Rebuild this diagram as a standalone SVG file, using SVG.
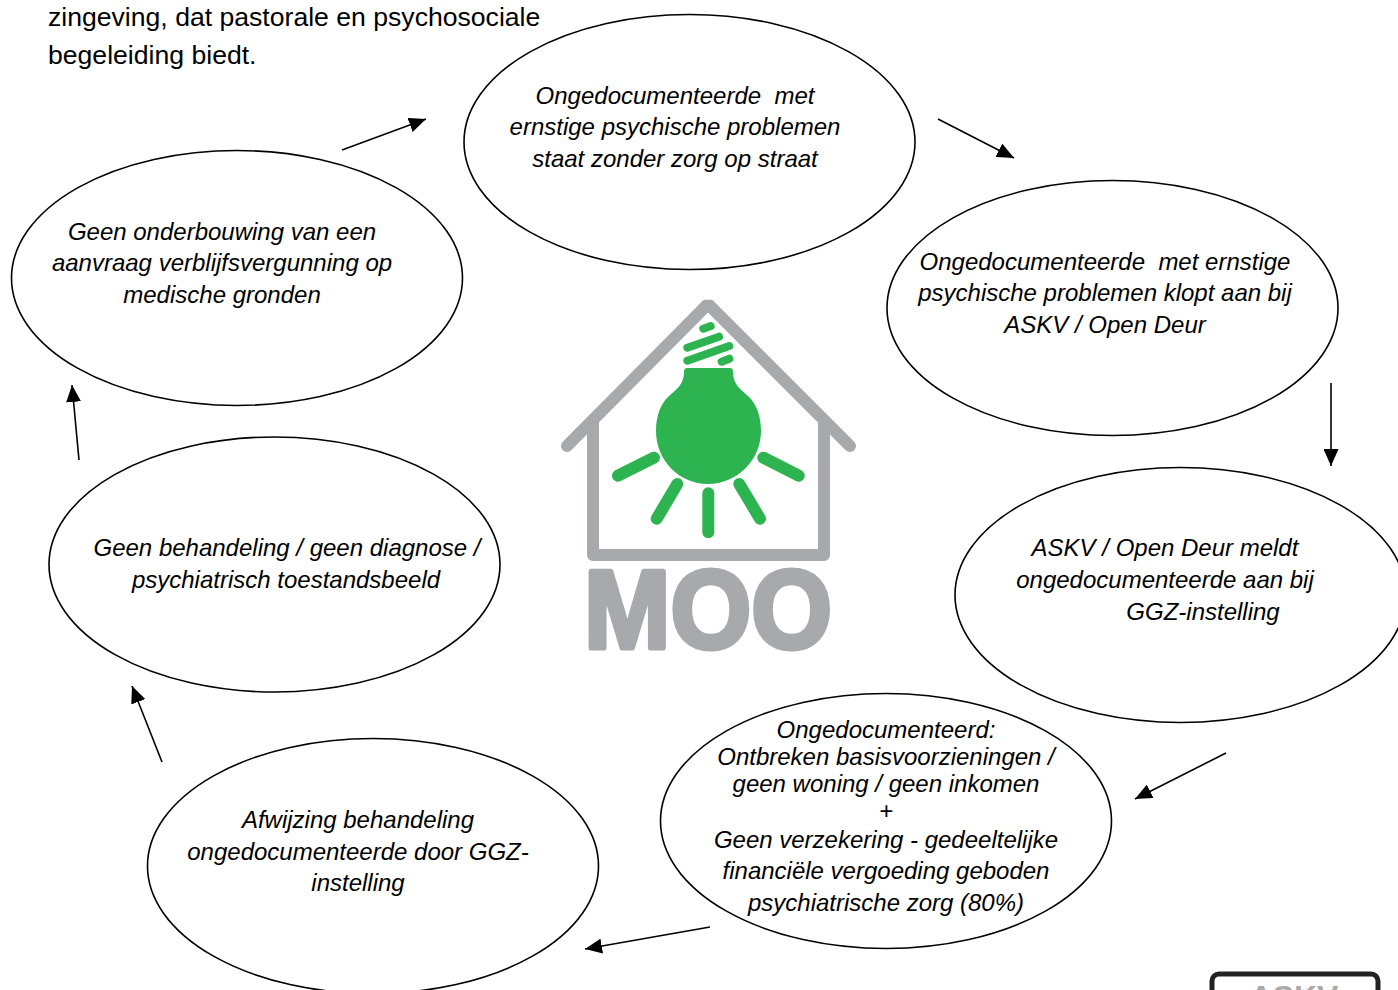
<svg xmlns="http://www.w3.org/2000/svg" width="1398" height="990" viewBox="0 0 1398 990">
<style>
text{font-family:"Liberation Sans",Arial,sans-serif;fill:#000;white-space:pre}
.t{font-size:24px;font-style:italic;text-anchor:middle}
.p{font-size:26.6px}
ellipse{fill:#fff;stroke:#000;stroke-width:1.6}
.c{stroke:#000;stroke-width:1.6;fill:none;marker-end:url(#ah)}
.g{fill:none;stroke:#a7a9ac;stroke-width:12}
.r{stroke:#2db34f;stroke-width:12;stroke-linecap:round;fill:none}
.h{stroke:#2db34f;stroke-width:8;stroke-linecap:round;fill:none}
</style>
<defs><marker id="ah" markerUnits="userSpaceOnUse" markerWidth="18" markerHeight="15" refX="17" refY="7.5" orient="auto"><path d="M0 0L17 7.5L0 15Z" fill="#000"/></marker></defs>
<rect width="1398" height="990" fill="#fff"/>
<g id="intro"><text class="p" x="48" y="26">zingeving, dat pastorale en psychosociale</text><text class="p" x="48" y="64">begeleiding biedt.</text></g>
<g id="node1"><ellipse cx="689.5" cy="142" rx="225.5" ry="127.5"/><text class="t" x="675" y="104">Ongedocumenteerde  met</text><text class="t" x="675" y="135">ernstige psychische problemen</text><text class="t" x="675" y="167">staat zonder zorg op straat</text></g>
<g id="node2"><ellipse cx="1112.5" cy="308" rx="225.5" ry="127.5"/><text class="t" x="1105" y="270">Ongedocumenteerde  met ernstige</text><text class="t" x="1105" y="301">psychische problemen klopt aan bij</text><text class="t" x="1105" y="333">ASKV / Open Deur</text></g>
<g id="node3"><ellipse cx="1180.5" cy="595" rx="225.5" ry="127.5"/><text class="t" x="1165" y="556">ASKV / Open Deur meldt</text><text class="t" x="1165" y="588">ongedocumenteerde aan bij</text><text class="t" x="1203" y="620">GGZ-instelling</text></g>
<g id="node4"><ellipse cx="886" cy="821" rx="225.5" ry="127.5"/><text class="t" x="886" y="738">Ongedocumenteerd:</text><text class="t" x="886" y="765">Ontbreken basisvoorzieningen /</text><text class="t" x="886" y="792">geen woning / geen inkomen</text><text class="t" x="886" y="819">+</text><text class="t" x="886" y="848">Geen verzekering - gedeeltelijke</text><text class="t" x="886" y="879">financiële vergoeding geboden</text><text class="t" x="886" y="911">psychiatrische zorg (80%)</text></g>
<g id="node5"><ellipse cx="373" cy="866" rx="225.5" ry="127.5"/><text class="t" x="358" y="828">Afwijzing behandeling</text><text class="t" x="358" y="860">ongedocumenteerde door GGZ-</text><text class="t" x="358" y="891">instelling</text></g>
<g id="node6"><ellipse cx="274.5" cy="564.5" rx="225.5" ry="127.5"/><text class="t" x="287" y="556">Geen behandeling / geen diagnose /</text><text class="t" x="286" y="588">psychiatrisch toestandsbeeld</text></g>
<g id="node7"><ellipse cx="237" cy="278" rx="225.5" ry="127.5"/><text class="t" x="222" y="240">Geen onderbouwing van een</text><text class="t" x="222" y="271">aanvraag verblijfsvergunning op</text><text class="t" x="222" y="303">medische gronden</text></g>
<g id="connectors">
<path class="c" d="M342 150L426 119"/><path class="c" d="M938 119L1014 158"/><path class="c" d="M1331 383V466"/><path class="c" d="M1226 753L1135 799"/><path class="c" d="M710 927L585 949"/><path class="c" d="M162 762L132 686"/><path class="c" d="M79 460L72 385"/>
</g>
<g id="logo">
<path class="g" style="stroke-linecap:round;stroke-linejoin:bevel" d="M567 446L708 304L850 446"/>
<path class="g" style="stroke-linejoin:round" d="M593 422V555H824V422"/>
<path fill="#2db34f" d="M687 368H730Q733 368 733 372C733 384 740 389 748 396C757 404 761 417 761 431C761 460 737 484 708 484C679 484 656 460 656 431C656 417 660 404 669 396C677 389 684 384 684 372Q684 368 687 368Z"/>
<path class="r" d="M618 475.7L654 457.7M656.7 518.7L677.3 484M708.3 493.3V532.3M739.3 484L760 518.7M763.3 457.7L798.7 475.7"/>
<path class="h" d="M703.3 328.7L710.7 326M687.3 347.7L719 336.7M687.3 360.7L729.3 346M721.7 361.7L729.3 358.7"/>
<text x="584" y="648" font-size="112" font-weight="700" textLength="248" lengthAdjust="spacingAndGlyphs" style="fill:#a7a9ac;stroke:#a7a9ac;stroke-width:5;stroke-linejoin:round">MOO</text>
</g>
<g id="askv-badge"><rect x="1212" y="974" width="166" height="40" rx="7" fill="#fff" stroke="#222" stroke-width="5"/><text x="1294" y="1008" font-size="32" font-weight="700" text-anchor="middle" style="fill:#aaa">ASKV</text></g>
</svg>
